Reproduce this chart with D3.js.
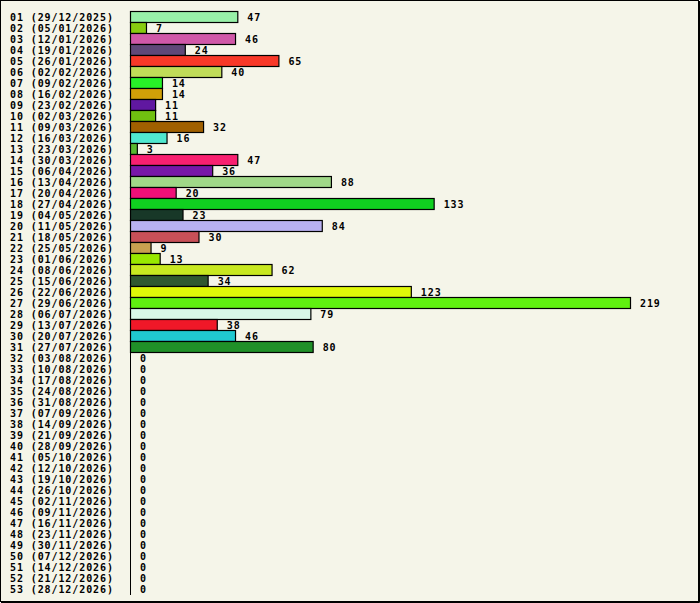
<!DOCTYPE html>
<html>
<head>
<meta charset="utf-8">
<script src="https://cdn.jsdelivr.net/npm/d3@7"></script>
<style>
  body { margin: 0; background: #fff; }
  svg text { font-family: "DejaVu Sans Mono", monospace; font-weight: bold; font-size: 10px; letter-spacing: 0.9px; fill: #000; }
</style>
</head>
<body>
<svg id="chart" width="700" height="603"></svg>
<script>
// week numbers with the monday date
let weeks = [
    '01 (29/12/2025)', '02 (05/01/2026)', '03 (12/01/2026)', '04 (19/01/2026)', '05 (26/01/2026)',
    '06 (02/02/2026)', '07 (09/02/2026)', '08 (16/02/2026)', '09 (23/02/2026)', '10 (02/03/2026)',
    '11 (09/03/2026)', '12 (16/03/2026)', '13 (23/03/2026)', '14 (30/03/2026)', '15 (06/04/2026)',
    '16 (13/04/2026)', '17 (20/04/2026)', '18 (27/04/2026)', '19 (04/05/2026)', '20 (11/05/2026)',
    '21 (18/05/2026)', '22 (25/05/2026)', '23 (01/06/2026)', '24 (08/06/2026)', '25 (15/06/2026)',
    '26 (22/06/2026)', '27 (29/06/2026)', '28 (06/07/2026)', '29 (13/07/2026)', '30 (20/07/2026)',
    '31 (27/07/2026)', '32 (03/08/2026)', '33 (10/08/2026)', '34 (17/08/2026)', '35 (24/08/2026)',
    '36 (31/08/2026)', '37 (07/09/2026)', '38 (14/09/2026)', '39 (21/09/2026)', '40 (28/09/2026)',
    '41 (05/10/2026)', '42 (12/10/2026)', '43 (19/10/2026)', '44 (26/10/2026)', '45 (02/11/2026)',
    '46 (09/11/2026)', '47 (16/11/2026)', '48 (23/11/2026)', '49 (30/11/2026)', '50 (07/12/2026)',
    '51 (14/12/2026)', '52 (21/12/2026)', '53 (28/12/2026)'
];

let counts = [
    47, 7, 46, 24, 65, 40, 14, 14, 11, 11,
    32, 16, 3, 47, 36, 88, 20, 133, 23, 84,
    30, 9, 13, 62, 34, 123, 219, 79, 38, 46,
    80, 0, 0, 0, 0, 0, 0, 0, 0, 0,
    0, 0, 0, 0, 0, 0, 0, 0, 0, 0,
    0, 0, 0
];

let colors = [
    '#98f0a8', '#88cc10', '#d058a8', '#604878', '#f83828', '#c0dc58', '#28f028', '#d0a008', '#6018a0', '#70c010',
    '#a06000', '#50e8d0', '#58b830', '#f82070', '#7818a8', '#a0d888', '#f01078', '#10d020', '#183828', '#b8b0f0',
    '#c85058', '#c8a050', '#98e800', '#c8e820', '#305830', '#e0f808', '#60f010', '#d8f8e8', '#f01828', '#20c8d0',
    '#209028'
];

let rows = weeks.map(function(w, i) {
    return { week: w, count: counts[i], color: colors[i] || '#000' };
});

let svg = d3.select('#chart');

// background + frame
svg.append('rect')
    .attr('x', 0.5).attr('y', 0.5)
    .attr('width', 698).attr('height', 601)
    .attr('fill', '#f5f5e9')
    .attr('stroke', '#000');
svg.append('path')
    .attr('d', 'M699.5,1V602.5H1')
    .attr('fill', 'none')
    .attr('stroke', '#000');

let x = d3.scaleLinear().domain([0, 219]).range([0, 500]);
let y = d3.scaleBand().domain(weeks).range([11, 11 + weeks.length * 11]).padding(0);
let left = 130;

svg.selectAll('text.week')
    .data(rows)
    .join('text')
    .attr('class', 'week')
    .attr('x', 10)
    .attr('y', function(d) { return y(d.week) + 9.5; })
    .text(function(d) { return d.week; });

svg.selectAll('rect.bar')
    .data(rows.filter(function(d) { return d.count > 0; }))
    .join('rect')
    .attr('class', 'bar')
    .attr('x', left + 0.5)
    .attr('y', function(d) { return y(d.week) + 0.5; })
    .attr('width', function(d) { return x(d.count); })
    .attr('height', y.bandwidth())
    .attr('fill', function(d) { return d.color; })
    .attr('stroke', '#000')
    .attr('stroke-width', 1.2);

// axis line
svg.append('line')
    .attr('x1', left + 0.5).attr('x2', left + 0.5)
    .attr('y1', 11).attr('y2', 595)
    .attr('stroke', '#000');

svg.selectAll('text.value')
    .data(rows)
    .join('text')
    .attr('class', 'value')
    .attr('x', function(d) { return left + x(d.count) + 10; })
    .attr('y', function(d) { return y(d.week) + 9.5; })
    .text(function(d) { return d.count; });
</script>
</body>
</html>
